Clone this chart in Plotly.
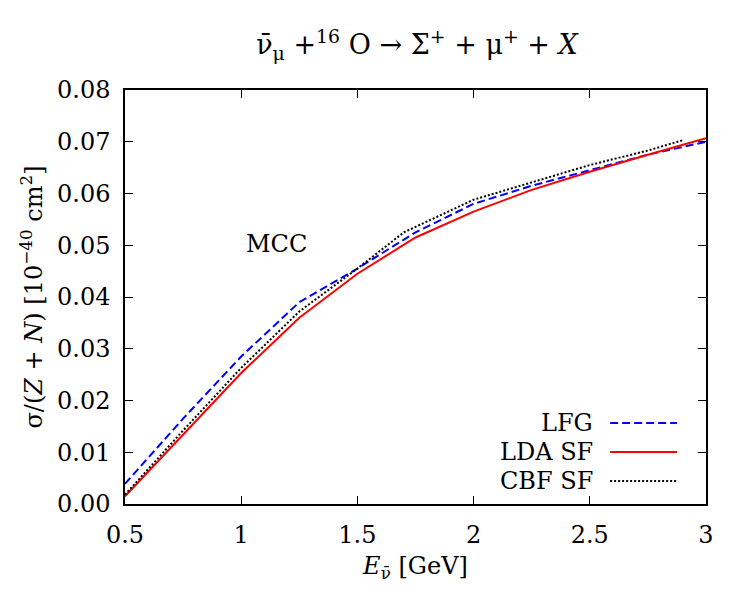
import plotly.graph_objects as go

# Data
E_lfg = [0.5, 0.75, 1.0, 1.25, 1.5, 1.75, 2.0, 2.25, 2.5, 2.75, 3.0]
sig_lfg = [0.0039, 0.0165, 0.0285, 0.0390, 0.0455, 0.0525, 0.0580, 0.0615, 0.0645, 0.0675, 0.0700]

E_lda = [0.5, 0.75, 1.0, 1.25, 1.5, 1.75, 2.0, 2.25, 2.5, 2.75, 3.0]
sig_lda = [0.0015, 0.0135, 0.0253, 0.0360, 0.0445, 0.0515, 0.0565, 0.0607, 0.0642, 0.0675, 0.0707]

E_cbf = [0.5, 0.75, 1.0, 1.25, 1.5, 1.7, 2.0, 2.25, 2.5, 2.75, 2.9]
sig_cbf = [0.0018, 0.0142, 0.0263, 0.0372, 0.0455, 0.0525, 0.0588, 0.0622, 0.0655, 0.0683, 0.0703]

x_ticks = [0.5, 1, 1.5, 2, 2.5, 3]
x_tick_labels = ["0.5", "1", "1.5", "2", "2.5", "3"]
y_ticks = [0, 0.01, 0.02, 0.03, 0.04, 0.05, 0.06, 0.07, 0.08]
y_tick_labels = ["0.00", "0.01", "0.02", "0.03", "0.04", "0.05", "0.06", "0.07", "0.08"]

legend_names = ["LFG", "LDA SF", "CBF SF"]
legend_colors = ["#0000ff", "#ff0000", "#000000"]
legend_dash = ["8px,4px", "solid", "2px,2px"]

FONT = "DejaVu Serif"
FS = 24

fig = go.Figure()
series = [(E_lfg, sig_lfg), (E_lda, sig_lda), (E_cbf, sig_cbf)]
for (xs, ys), name, col, dash in zip(series, legend_names, legend_colors, legend_dash):
    fig.add_trace(go.Scatter(x=xs, y=ys, mode="lines", name=name,
                             line=dict(color=col, width=2, dash=dash),
                             showlegend=False))

# custom legend: text right-aligned, line sample on the right
leg_y = [0.1957, 0.1256, 0.0556]
for name, col, dash, yy in zip(legend_names, legend_colors, legend_dash, leg_y):
    fig.add_annotation(xref="paper", yref="paper", x=0.809, y=yy, text=name,
                       showarrow=False, xanchor="right", yanchor="middle",
                       font=dict(family=FONT, size=FS, color="black"))
    fig.add_shape(type="line", xref="paper", yref="paper", x0=0.835, x1=0.950,
                  y0=yy, y1=yy, line=dict(color=col, width=2, dash=dash))

fig.add_annotation(x=1.15, y=0.0502, text="MCC", showarrow=False,
                   font=dict(family=FONT, size=FS, color="black"))

axis_common = dict(showgrid=False, zeroline=False, showline=True, linecolor="black",
                   linewidth=1.5, mirror="ticks", ticks="inside", ticklen=8,
                   tickcolor="black", tickwidth=1,
                   tickfont=dict(family=FONT, size=FS, color="black"))

fig.update_xaxes(range=[0.5, 3], tickvals=x_ticks, ticktext=x_tick_labels,
                 ticklabelstandoff=8,
                 title=dict(text="<i>E</i><sub>ν̄</sub> [GeV]", standoff=10,
                            font=dict(family=FONT, size=FS, color="black")),
                 **axis_common)
fig.update_yaxes(range=[0, 0.08], tickvals=y_ticks, ticktext=y_tick_labels,
                 ticklabelstandoff=8,
                 title=dict(text="σ/(<i>Z</i> + <i>N</i>) [10<sup>−40</sup> cm<sup>2</sup>]",
                            standoff=8,
                            font=dict(family=FONT, size=FS, color="black")),
                 **axis_common)

fig.update_layout(
    width=750, height=600,
    margin=dict(l=125, r=44, t=90, b=96),
    paper_bgcolor="white", plot_bgcolor="white",
    title=dict(text="ν̄<sub>μ</sub> +<sup>16</sup> O → Σ<sup>+</sup> + μ<sup>+</sup> + <i>X</i>",
               x=0.556, xanchor="center", y=0.925, yanchor="middle",
               font=dict(family=FONT, size=27, color="black")),
    font=dict(family=FONT, color="black"),
)

fig.write_html("out.html")
